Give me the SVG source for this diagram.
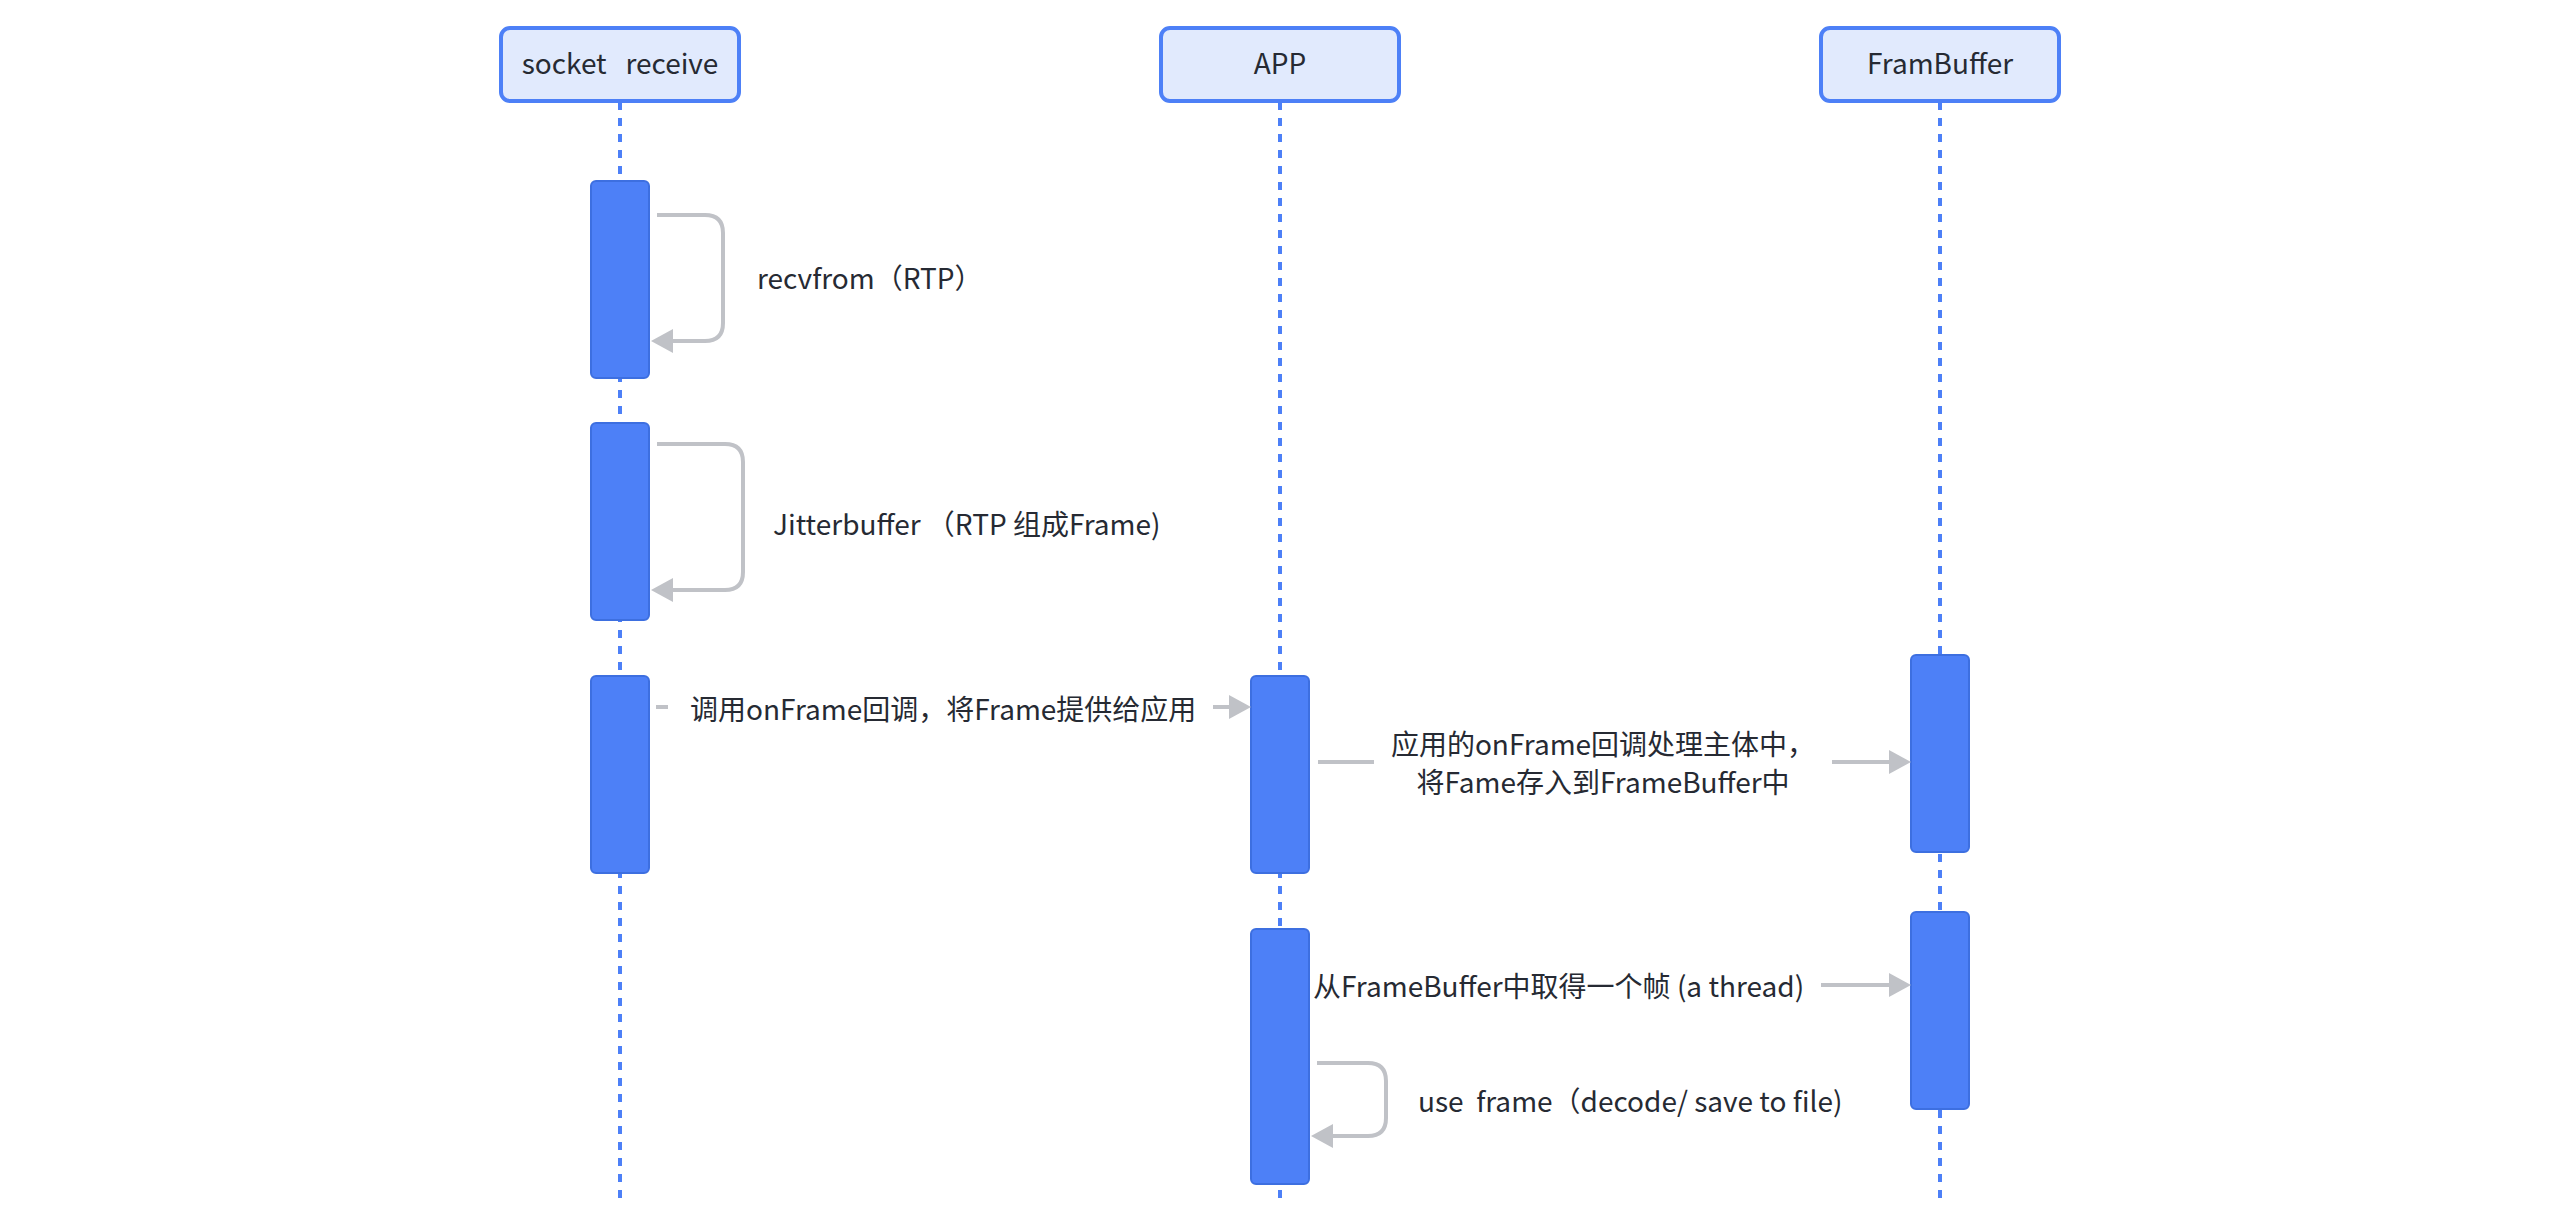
<svg xmlns="http://www.w3.org/2000/svg" width="2560" height="1232" viewBox="0 0 2560 1232">
<defs>
<style>
text{font-family:"Noto Sans CJK SC","Noto Sans",sans-serif;fill:#262a33;white-space:pre}
.node rect{fill:#e1eafd;stroke:#4d80f7;stroke-width:4}
.node text{font-size:28px;text-anchor:middle}
.life{stroke:#4d80f7;stroke-width:4;stroke-dasharray:8 8;fill:none}
.bar{fill:#4d80f7;stroke:#3d6fe0;stroke-width:2}
.msg{stroke:#c0c2c7;stroke-width:4;fill:none}
.lbl{font-size:28px}
</style>
<marker id="ah" markerUnits="userSpaceOnUse" markerWidth="22" markerHeight="24" refX="0" refY="12" orient="auto" viewBox="0 0 22 24">
<path d="M0,0 L22,12 L0,24 z" fill="#c0c2c7"/>
</marker>
</defs>
<rect width="2560" height="1232" fill="#ffffff"/>
<g id="lifelines">
<line class="life" x1="620" y1="102" x2="620" y2="1198"/>
<line class="life" x1="1280" y1="102" x2="1280" y2="1198"/>
<line class="life" x1="1940" y1="102" x2="1940" y2="1198"/>
</g>
<g id="node-socket" class="node">
<rect x="501" y="28" width="238" height="73" rx="9"/>
<text x="620" y="74">socket   receive</text>
</g>
<g id="node-app" class="node">
<rect x="1161" y="28" width="238" height="73" rx="9"/>
<text x="1280" y="74">APP</text>
</g>
<g id="node-framebuffer" class="node">
<rect x="1821" y="28" width="238" height="73" rx="9"/>
<text x="1940" y="74">FramBuffer</text>
</g>
<g id="activations">
<rect class="bar" x="591" y="181" width="58" height="197" rx="5"/>
<rect class="bar" x="591" y="423" width="58" height="197" rx="5"/>
<rect class="bar" x="591" y="676" width="58" height="197" rx="5"/>
<rect class="bar" x="1251" y="676" width="58" height="197" rx="5"/>
<rect class="bar" x="1911" y="655" width="58" height="197" rx="5"/>
<rect class="bar" x="1251" y="929" width="58" height="255" rx="5"/>
<rect class="bar" x="1911" y="912" width="58" height="197" rx="5"/>
</g>
<g id="connectors">
<path class="msg" d="M657,215 H705 Q723,215 723,233 V323 Q723,341 705,341 H673" marker-end="url(#ah)"/>
<path class="msg" d="M657,444 H725 Q743,444 743,462 V572 Q743,590 725,590 H673" marker-end="url(#ah)"/>
<path class="msg" d="M656,707 H668"/>
<path class="msg" d="M1213,707 H1229" marker-end="url(#ah)"/>
<path class="msg" d="M1318,762 H1374"/>
<path class="msg" d="M1832,762 H1889" marker-end="url(#ah)"/>
<path class="msg" d="M1821,985 H1889" marker-end="url(#ah)"/>
<path class="msg" d="M1317,1063 H1368 Q1386,1063 1386,1081 V1118 Q1386,1136 1368,1136 H1333" marker-end="url(#ah)"/>
</g>
<g id="labels">
<text class="lbl" x="757" y="289">recvfrom（RTP）</text>
<text class="lbl" x="773" y="535">Jitterbuffer （RTP 组成Frame)</text>
<text class="lbl" x="690" y="720">调用onFrame回调，将Frame提供给应用</text>
<text class="lbl" x="1603" y="755" text-anchor="middle">应用的onFrame回调处理主体中，</text>
<text class="lbl" x="1603" y="793" text-anchor="middle">将Fame存入到FrameBuffer中</text>
<text class="lbl" x="1313" y="997">从FrameBuffer中取得一个帧 (a thread)</text>
<text class="lbl" x="1418" y="1112">use  frame（decode/ save to file)</text>
</g>
</svg>
